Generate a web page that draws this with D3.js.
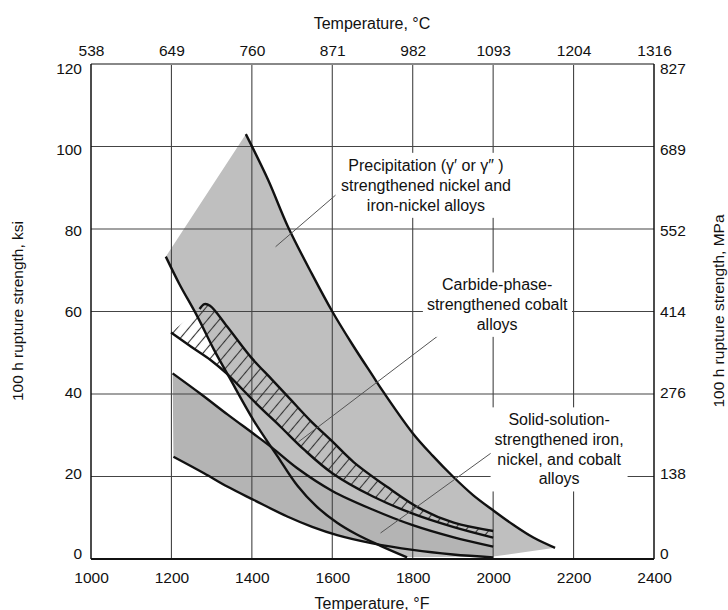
<!DOCTYPE html>
<html>
<head>
<meta charset="utf-8">
<script src="https://cdn.jsdelivr.net/npm/d3@7"></script>
<style>
body { margin: 0; background: #fff; }
text { font-family: "Liberation Sans", Arial, Helvetica, sans-serif; fill: #111; }
</style>
</head>
<body>
<svg id="chart" width="728" height="610"></svg>
<script>
// axis ticks: degF on the bottom, degC labels on top, ksi left, MPa right
var fTicks = [1000, 1200, 1400, 1600, 1800, 2000, 2200, 2400];
var cTickLabels = ["538", "649", "760", "871", "982", "1093", "1204", "1316"];
var ksiTicks = [0, 20, 40, 60, 80, 100, 120];
var mpaTickLabels = ["0", "138", "276", "414", "552", "689", "827"];
var fGrid = [1200, 1400, 1600, 1800, 2000, 2200];
var ksiGrid = [20, 40, 60, 80, 100];

// band boundaries, [degF, ksi]
var precipUpper = [[1385, 103], [1440, 92], [1490, 80.5], [1550, 69], [1600, 60], [1650, 52],
    [1700, 44.5], [1727, 40.5], [1800, 30.5], [1850, 25], [1900, 20], [1950, 15.5],
    [2000, 11.8], [2050, 8.3], [2100, 5.2], [2154, 2.7]];
var precipLower = [[1186, 73.3], [1219, 66.8], [1265, 58.7], [1306, 50.7], [1343, 44.2],
    [1405, 33.5], [1463, 25], [1513, 17.8], [1560, 12.8], [1612, 8.8], [1660, 6],
    [1720, 3.2], [1786, 0.4]];
var precipBase = [[1786, 0.4], [2000, 0.6], [2154, 2.7]];

var carbideUpper = [[1270, 60.6], [1282, 61.8], [1296, 61.4], [1339, 56.3], [1397, 49],
    [1450, 43.5], [1496, 38.7], [1546, 33.5], [1600, 28.5], [1653, 23.5], [1736, 17.5],
    [1819, 12.2], [1902, 8.8], [2000, 6.8]];
var carbideLower = [[1199, 54.9], [1250, 51.4], [1298, 48.2], [1337, 45], [1413, 37.5],
    [1472, 32], [1530, 26.5], [1600, 20.8], [1700, 15.2], [1800, 11], [1900, 7.8], [2000, 5.2]];

var ssUpper = [[1203, 45], [1273, 40], [1340, 35], [1405, 30.3], [1450, 27], [1513, 22],
    [1600, 16.5], [1700, 12], [1800, 8.2], [1900, 5.3], [2000, 3]];
var ssLower = [[1205, 24.8], [1281, 20.8], [1340, 17.5], [1405, 14.3], [1488, 10.3],
    [1550, 7.8], [1612, 5.8], [1700, 3.8], [1800, 2.2], [1900, 1.1], [2000, 0.4]];

// leader lines and labels
var precipLeader = [[1608, 88.2], [1459, 75.7]];
var carbideLeader = [[1898, 56.7], [1516, 28.4]];
var ssLeader = [[2005, 26.4], [1720, 6.3]];
var precipLabel = ["Precipitation (\u03b3\u2032 or \u03b3\u2033 )", "strengthened nickel and", "iron-nickel alloys"];
var carbideLabel = ["Carbide-phase-", "strengthened cobalt", "alloys"];
var ssLabel = ["Solid-solution-", "strengthened iron,", "nickel, and cobalt", "alloys"];

var svg = d3.select("#chart");
var x = d3.scaleLinear().domain([1000, 2400]).range([91, 654]);
var y = d3.scaleLinear().domain([0, 120]).range([559, 64]);
// the printed side labels sit a little inside the top and bottom lines
var yLab = d3.scaleLinear().domain([0, 120]).range([554, 69]);

var defs = svg.append("defs");
var hatch = defs.append("pattern")
    .attr("id", "hatch")
    .attr("patternUnits", "userSpaceOnUse")
    .attr("width", 9).attr("height", 9)
    .attr("patternTransform", "rotate(40)");
hatch.append("line")
    .attr("x1", 4.5).attr("y1", 0).attr("x2", 4.5).attr("y2", 9)
    .attr("stroke", "#333").attr("stroke-width", 1.1);

var curve = d3.line()
    .x(function(d) { return x(d[0]); })
    .y(function(d) { return y(d[1]); })
    .curve(d3.curveCatmullRom.alpha(0.5));
var straight = d3.line()
    .x(function(d) { return x(d[0]); })
    .y(function(d) { return y(d[1]); });

function band(top, bottom) {
    var a = curve(top);
    var b = curve(bottom.slice().reverse());
    return a + "L" + b.slice(1) + "Z";
}

// fills
svg.append("path")
    .attr("d", curve(precipUpper) + "L" + straight(precipBase.slice().reverse()).slice(1) +
        "L" + curve(precipLower.slice().reverse()).slice(1) + "Z")
    .attr("fill", "#bfbfbf");
svg.append("path")
    .attr("d", band(ssUpper, ssLower))
    .attr("fill", "#b4b4b4");

// grid
svg.append("g").selectAll("line").data(fGrid).enter().append("line")
    .attr("x1", function(d) { return x(d); }).attr("x2", function(d) { return x(d); })
    .attr("y1", y(120)).attr("y2", y(0))
    .attr("stroke", "#444").attr("stroke-width", 1.1);
svg.append("g").selectAll("line").data(ksiGrid).enter().append("line")
    .attr("x1", x(1000)).attr("x2", x(2400))
    .attr("y1", function(d) { return y(d); }).attr("y2", function(d) { return y(d); })
    .attr("stroke", "#444").attr("stroke-width", 1.1);

// hatched carbide band
svg.append("path")
    .attr("d", band(carbideUpper, carbideLower))
    .attr("fill", "url(#hatch)");

// boundary curves
[precipUpper, precipLower, carbideUpper, carbideLower, ssUpper, ssLower].forEach(function(pts) {
    svg.append("path")
        .attr("d", curve(pts))
        .attr("fill", "none")
        .attr("stroke", "#111")
        .attr("stroke-width", 2.4);
});

[precipLeader, carbideLeader, ssLeader].forEach(function(pts) {
    svg.append("path")
        .attr("d", straight(pts))
        .attr("fill", "none")
        .attr("stroke", "#555")
        .attr("stroke-width", 1);
});

function addLabel(lines, fx, ksi, gap) {
    var g = svg.append("g");
    var box = g.append("rect").attr("fill", "#fff");
    var t = g.append("text")
        .attr("text-anchor", "middle")
        .attr("font-size", "16px");
    lines.forEach(function(s, i) {
        t.append("tspan")
            .attr("x", x(fx))
            .attr("y", y(ksi) + i * gap)
            .text(s);
    });
    var bb = t.node().getBBox();
    box.attr("x", bb.x - 4).attr("y", bb.y - 4)
        .attr("width", bb.width + 8).attr("height", bb.height + 8);
}
addLabel(precipLabel, 1833, 94.1, 20);
addLabel(carbideLabel, 2010, 65.1, 19.7);
addLabel(ssLabel, 2164, 32.4, 19.7);

// axes
function styleAxis(g) {
    g.select(".domain").remove();
    g.selectAll("text").attr("font-size", "15.5px").attr("fill", "#111")
        .attr("font-family", "'Liberation Sans', Arial, Helvetica, sans-serif");
}
svg.append("g").attr("transform", "translate(0," + y(0) + ")")
    .call(d3.axisBottom(x).tickValues(fTicks).tickSize(0).tickPadding(12.5).tickFormat(d3.format("d")))
    .call(styleAxis);
svg.append("g").attr("transform", "translate(0," + y(120) + ")")
    .call(d3.axisTop(x).tickValues(fTicks).tickSize(0).tickPadding(8)
        .tickFormat(function(d, i) { return cTickLabels[i]; }))
    .call(styleAxis);
svg.append("g").attr("transform", "translate(" + x(1000) + ",0)")
    .call(d3.axisLeft(yLab).tickValues(ksiTicks).tickSize(0).tickPadding(9))
    .call(styleAxis);
svg.append("g").attr("transform", "translate(" + x(2400) + ",0)")
    .call(d3.axisRight(yLab).tickValues(ksiTicks).tickSize(0).tickPadding(6)
        .tickFormat(function(d, i) { return mpaTickLabels[i]; }))
    .call(styleAxis);

// frame
svg.append("line").attr("x1", x(1000)).attr("x2", x(2400)).attr("y1", y(120)).attr("y2", y(120))
    .attr("stroke", "#888").attr("stroke-width", 2);
svg.append("line").attr("x1", x(1000)).attr("x2", x(2400)).attr("y1", y(0)).attr("y2", y(0))
    .attr("stroke", "#111").attr("stroke-width", 2);
svg.append("line").attr("x1", x(1000)).attr("x2", x(1000)).attr("y1", y(120)).attr("y2", y(0))
    .attr("stroke", "#111").attr("stroke-width", 1.5);
svg.append("line").attr("x1", x(2400)).attr("x2", x(2400)).attr("y1", y(120)).attr("y2", y(0))
    .attr("stroke", "#111").attr("stroke-width", 1.5);

// titles
svg.append("text").attr("x", 372).attr("y", 28.5).attr("text-anchor", "middle")
    .attr("font-size", "16px").text("Temperature, \u00b0C");
svg.append("text").attr("x", 372).attr("y", 608.5).attr("text-anchor", "middle")
    .attr("font-size", "16px").text("Temperature, \u00b0F");
svg.append("text").attr("transform", "translate(23,311) rotate(-90)").attr("text-anchor", "middle")
    .attr("font-size", "15.5px").text("100 h rupture strength, ksi");
svg.append("text").attr("transform", "translate(724,311) rotate(-90)").attr("text-anchor", "middle")
    .attr("font-size", "15.5px").text("100 h rupture strength, MPa");
</script>
</body>
</html>
